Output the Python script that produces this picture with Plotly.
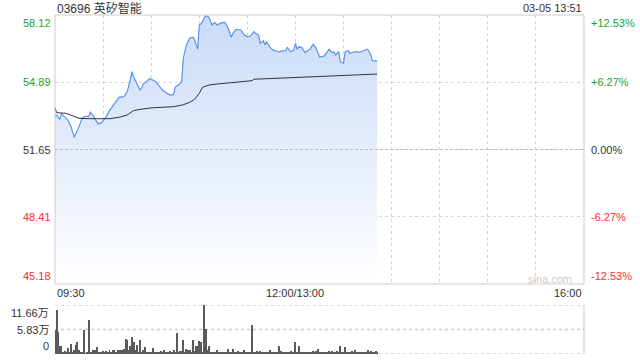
import plotly.graph_objects as go

# ---------------- data ----------------
title_text = "03696 英矽智能"
stamp_text = "03-05 13:51"
prev_close = 51.65
price_ticks = [45.18, 48.41, 51.65, 54.89, 58.12]
pct_ticks = ["-12.53%", "-6.27%", "0.00%", "+6.27%", "+12.53%"]
vol_ticks = [0, 5.83, 11.66]
vol_tick_text = ["0", "5.83万", "11.66万"]
x_tick_labels = ["09:30", "12:00/13:00", "16:00"]

price_times = ["09:30", "09:31", "09:33", "09:34", "09:36", "09:38", "09:40", "09:42", "09:45", "09:47",
               "09:49", "09:51", "09:52", "09:54", "09:55", "09:57", "09:59", "10:01", "10:02", "10:04",
               "10:06", "10:08", "10:10", "10:13", "10:15", "10:16", "10:18", "10:19", "10:21", "10:23",
               "10:24", "10:25", "10:27", "10:29", "10:31", "10:33", "10:35", "10:37", "10:40", "10:42",
               "10:44", "10:45", "10:47", "10:49", "10:50", "10:52", "10:54", "10:56", "10:57", "10:59",
               "11:00", "11:01", "11:02", "11:04", "11:06", "11:08", "11:09", "11:10", "11:11", "11:14",
               "11:16", "11:18", "11:20", "11:21", "11:23", "11:26", "11:28", "11:30", "11:32", "11:34",
               "11:35", "11:37", "11:38", "11:40", "11:41", "11:42", "11:44", "11:46", "11:48", "11:50",
               "11:52", "11:54", "11:55", "11:57", "11:59", "12:00", "13:01", "13:02", "13:04", "13:06",
               "13:08", "13:09", "13:11", "13:13", "13:15", "13:16", "13:18", "13:20", "13:21", "13:23",
               "13:24", "13:25", "13:27", "13:28", "13:30", "13:31", "13:33", "13:34", "13:37", "13:40",
               "13:42", "13:45", "13:46", "13:47", "13:48", "13:51"]
price_values = [53.26, 53.31, 53.10, 53.36, 53.23, 53.07, 52.75, 52.24, 52.75, 53.17,
                53.26, 53.23, 53.44, 53.26, 53.10, 52.88, 52.94, 53.10, 53.23, 53.52,
                53.74, 53.95, 54.16, 54.19, 54.43, 54.70, 55.39, 55.15, 54.86, 54.51,
                54.59, 54.80, 54.91, 55.07, 54.99, 54.91, 54.70, 54.51, 54.35, 54.27,
                54.30, 54.64, 54.75, 54.91, 56.04, 56.68, 57.00, 57.05, 56.95, 56.47,
                57.64, 57.69, 57.80, 58.09, 58.01, 57.64, 57.72, 57.75, 57.64, 57.75,
                57.77, 57.48, 57.05, 57.24, 57.43, 57.40, 57.16, 57.08, 57.11, 57.32,
                57.24, 57.16, 56.76, 56.88, 56.68, 56.84, 56.57, 56.44, 56.39, 56.35,
                56.39, 56.40, 56.57, 56.35, 56.44, 56.76, 56.47, 56.59, 56.55, 56.31,
                56.44, 56.47, 56.71, 56.52, 56.11, 56.11, 56.15, 56.35, 56.47, 56.30,
                56.35, 56.20, 56.35, 55.87, 55.80, 56.35, 56.40, 56.28, 56.35, 56.33,
                56.40, 56.47, 56.35, 56.20, 55.92, 55.91]

avg_times = ["09:30", "09:31", "09:37", "09:40", "09:45", "09:52", "10:04", "10:10", "10:15", "10:19",
             "10:23", "10:31", "10:44", "10:50", "10:54", "10:57", "11:00", "11:02", "11:06", "11:11",
             "11:30", "11:33", "11:34", "13:01", "13:30", "13:51"]
avg_values = [53.66, 53.42, 53.39, 53.31, 53.15, 53.13, 53.13, 53.20, 53.31, 53.52,
              53.58, 53.66, 53.71, 53.80, 53.92, 54.06, 54.35, 54.64, 54.75, 54.80,
              54.91, 54.96, 55.03, 55.12, 55.22, 55.28]

# per-minute volume (万), starting 09:30
volume = [5.6, 10.5, 5.2, 2.0, 2.0, 0.4, 0.6, 0.3, 1.4, 0.25,
          2.45, 0.4, 0.85, 2.2, 2.8, 0.85, 0.25, 0.3, 5.8, 0.2,
          0.4, 8.2, 0.25, 0.4, 0.85, 1.0, 1.7, 0.4, 0.3, 0.25,
          0.6, 0.4, 0.6, 0.25, 1.0, 0.3, 1.0, 1.0, 0.4, 0.85,
          1.0, 1.0, 0.85, 1.2, 3.6, 3.4, 0.85, 1.9, 4.0, 2.8,
          1.0, 2.2, 0.4, 3.4, 0.25, 0.85, 1.7, 0.4, 0.25, 0.4,
          0.4, 1.4, 0.4, 0.25, 0.25, 0.3, 0.6, 0.25, 1.0, 0.25,
          0.4, 0.25, 0.6, 0.25, 1.0, 0.3, 5.1, 0.4, 0.6, 0.6,
          3.25, 0.4, 1.2, 1.0, 1.0, 0.3, 3.25, 0.6, 1.9, 1.9,
          3.0, 2.8, 0.4, 11.66, 5.9, 1.0, 2.0, 0.4, 0.3, 0.4,
          0.4, 0.85, 0.25, 0.3, 0.25, 0.3, 0.3, 0.25, 1.2, 0.4,
          0.4, 1.2, 0.25, 0.3, 0.6, 0.3, 0.4, 0.3, 1.0, 0.25,
          0.3, 0.25, 0.3, 7.0, 0.4, 0.3, 0.6, 0.4, 0.6, 0.3,
          0.4, 0.3, 0.4, 0.25, 0.85, 0.3, 0.4, 0.25, 0.3, 0.25,
          2.0, 0.6, 0.3, 0.4, 0.3, 0.4, 0.3, 0.6, 0.3, 0.25,
          2.8, 0.3, 2.0, 0.3, 0.4, 0.3, 0.25, 0.3, 0.25, 0.3,
          0.25, 0.6, 0.3, 0.6, 1.2, 0.3, 0.4, 0.4, 0.3, 0.25,
          0.3, 0.6, 0.3, 0.6, 0.4, 0.4, 0.6, 0.3, 1.9, 0.4,
          0.3, 1.6, 0.3, 0.4, 0.25, 0.6, 0.3, 1.0, 0.4, 0.3,
          0.25, 0.3, 0.25, 0.4, 0.3, 1.0, 0.5, 0.6, 0.3, 0.4,
          0.6, 0.25]


def to_idx(t):
    h, m = map(int, t.split(":"))
    mins = h * 60 + m
    if mins <= 12 * 60:
        return mins - (9 * 60 + 30)
    return 150 + mins - 13 * 60


px = [to_idx(t) for t in price_times]
ax = [to_idx(t) for t in avg_times]
vx = list(range(len(volume)))

FONT = "Arial, 'Liberation Sans', 'Noto Sans CJK SC', sans-serif"
GREEN = "#1ea51e"
RED = "#f23030"
DARK = "#333333"
GRID = "#d4d4d4"

X0, X1 = 55 / 640, 584 / 640
MAIN = [1 - 284 / 360, 1 - 15 / 360]
VOL = [1 - 354 / 360, 1 - 305 / 360]

fig = go.Figure()
fig.add_trace(go.Scatter(
    x=px, y=price_values, mode="lines", xaxis="x", yaxis="y",
    line=dict(color="#5a92ef", width=1.2),
    fill="tozeroy",
    fillgradient=dict(type="vertical",
                      colorscale=[[0, "rgba(255,255,255,1)"], [1, "rgba(201,219,248,1)"]],
                      start=45.18, stop=58.12),
    hoverinfo="skip", showlegend=False))
fig.add_trace(go.Scatter(
    x=ax, y=avg_values, mode="lines", xaxis="x", yaxis="y",
    line=dict(color="#2f3340", width=1), hoverinfo="skip", showlegend=False))
fig.add_trace(go.Bar(
    x=vx, y=volume, xaxis="x2", yaxis="y2", width=0.6,
    marker=dict(color="#5a5a5a", line=dict(width=0)),
    hoverinfo="skip", showlegend=False))

fig.update_layout(
    width=640, height=360, margin=dict(l=0, r=0, t=0, b=0),
    paper_bgcolor="white", plot_bgcolor="white",
    font=dict(family=FONT, size=11, color=DARK),
    bargap=0,
    xaxis=dict(domain=[X0, X1], range=[0, 330], tickvals=list(range(0, 331, 30)),
               showticklabels=False, showgrid=True, gridcolor=GRID, griddash="dot",
               gridwidth=1, zeroline=False, showline=False, ticks="", anchor="y"),
    yaxis=dict(domain=MAIN, range=[45.18, 58.12], tickvals=price_ticks,
               showticklabels=False, showgrid=True, gridcolor=GRID, griddash="dot",
               zeroline=False, showline=False, ticks="", anchor="x"),
    xaxis2=dict(domain=[X0, X1], range=[0, 330], showticklabels=False, showgrid=False,
                zeroline=False, showline=False, ticks="", anchor="y2"),
    yaxis2=dict(domain=VOL, range=[0, 11.66], showticklabels=False, showgrid=False,
                zeroline=False, showline=False, ticks="", anchor="x2"),
)

shapes = []
# main panel border
shapes.append(dict(type="rect", xref="x domain", yref="y domain", x0=0, x1=1, y0=0, y1=1,
                   line=dict(color="#cccccc", width=1), layer="above"))
# previous close dashed line
shapes.append(dict(type="line", xref="x domain", yref="y", x0=0, x1=1, y0=prev_close, y1=prev_close,
                   line=dict(color="#bbbbbb", width=1, dash="3px,2px"), layer="above"))
# volume panel dotted lines
for v in vol_ticks:
    shapes.append(dict(type="line", xref="x2 domain", yref="y2", x0=0, x1=1, y0=v, y1=v,
                       line=dict(color="#cccccc", width=1.5, dash="dot"), layer="below"))
shapes.append(dict(type="line", xref="x2 domain", yref="y2 domain", x0=1, x1=1, y0=0, y1=1,
                   line=dict(color="#cccccc", width=1)))
fig.update_layout(shapes=shapes)

ann = []
colors_left = [RED, RED, DARK, GREEN, GREEN]
anchors = ["bottom", "middle", "middle", "middle", "top"]
for val, pct, c, a in zip(price_ticks, pct_ticks, colors_left, anchors):
    ann.append(dict(x=X0 - 2 / 640, xref="paper", y=val, yref="y", text=f"{val:.2f}",
                    xanchor="right", yanchor=a, showarrow=False, font=dict(color=c, size=11)))
    ann.append(dict(x=X1 + 5 / 640, xref="paper", y=val, yref="y", text=pct,
                    xanchor="left", yanchor=a, showarrow=False, font=dict(color=c, size=11)))
vanch = ["bottom", "middle", "top"]
for v, t, a in zip(vol_ticks, vol_tick_text, vanch):
    ann.append(dict(x=X0 - 4 / 640, xref="paper", y=v, yref="y2", text=t,
                    xanchor="right", yanchor=a, showarrow=False, font=dict(color=DARK, size=11)))
# x tick labels
for pos, t, xa in zip([0, 150, 330], x_tick_labels, ["left", "center", "right"]):
    ann.append(dict(x=pos, xref="x", y=1 - 293 / 360, yref="paper", text=t,
                    xanchor=xa, yanchor="middle", showarrow=False, font=dict(color=DARK, size=11)))
ann.append(dict(x=X0, xref="paper", y=1 - 8 / 360, yref="paper", text=title_text,
                xanchor="left", yanchor="middle", showarrow=False, font=dict(color=DARK, size=12)))
ann.append(dict(x=X1, xref="paper", y=1 - 8 / 360, yref="paper", text=stamp_text,
                xanchor="right", yanchor="middle", showarrow=False, font=dict(color=DARK, size=11)))
ann.append(dict(x=1 - 66 / 640, xref="paper", y=1 - 279 / 360, yref="paper", text="sina.com",
                xanchor="right", yanchor="middle", showarrow=False, font=dict(color="#cccccc", size=11)))
fig.update_layout(annotations=ann)

fig.write_html("out.html")
